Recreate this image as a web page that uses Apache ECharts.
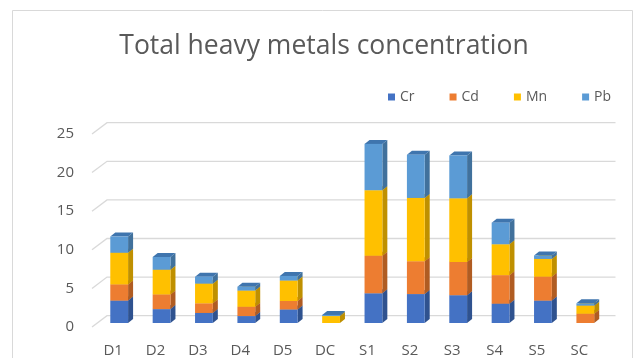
<!DOCTYPE html>
<html>
<head>
<meta charset="utf-8">
<script src="https://cdn.jsdelivr.net/npm/echarts@6/dist/echarts.min.js"></script>
<style>html,body{margin:0;padding:0;background:#fff}#c{width:637px;height:358px}</style>
</head>
<body>
<div id="c"></div>
<script>
var categories = ['D1','D2','D3','D4','D5','DC','S1','S2','S3','S4','S5','SC'];
var Cr = [2.9, 1.8, 1.3, 0.9, 1.75, 0, 3.85, 3.75, 3.6, 2.5, 2.9, 0];
var Cd = [2.1, 1.9, 1.25, 1.2, 1.1, 0, 4.85, 4.25, 4.3, 3.7, 3.1, 1.2];
var Mn = [4.1, 3.2, 2.55, 2.1, 2.65, 0.9, 8.5, 8.2, 8.25, 4.0, 2.3, 1.05];
var Pb = [2.1, 1.65, 0.9, 0.5, 0.6, 0.15, 6.0, 5.6, 5.55, 2.8, 0.45, 0.3];
var yTicks = [0, 5, 10, 15, 20, 25];

var seriesNames = ['Cr','Cd','Mn','Pb'];
var seriesVals = [Cr, Cd, Mn, Pb];
var front = ['#4472C4','#ED7D31','#FFC000','#5B9BD5'];
var side  = ['#2F528F','#B05C22','#BF9000','#41719C'];
var top_  = ['#3B63AA','#D06A27','#DDA600','#3F75AE'];

var FONT = "'Open Sans', sans-serif";
var OX = 6, OY = -4;     // bar plane offset from label plane
var DX = 5, DY = -4;     // bar depth
var WX = 15, WY = -11.3; // back wall offset

var bases = [];
var acc = categories.map(function(){return 0;});
seriesVals.forEach(function(arr){
  bases.push(acc.slice());
  acc = acc.map(function(a,i){return a + arr[i];});
});

function makeBarSeries(k){
  var data = categories.map(function(c,i){ return [i, bases[k][i], seriesVals[k][i]]; });
  return {
    name: seriesNames[k],
    type: 'custom',
    itemStyle: {color: front[k]},
    z: 10 + k,
    encode: {x: 0, y: 2},
    data: data,
    renderItem: function(params, api){
      var i = api.value(0), b = api.value(1), v = api.value(2);
      if (!v) return null;
      var p0 = api.coord([i, b]);
      var p1 = api.coord([i, b + v]);
      var w = api.size([1, 0])[0] * 0.42;
      var x = p0[0] - w/2 + OX;
      var y0 = p0[1] + OY, y1 = p1[1] + OY;
      return {
        type: 'group',
        children: [
          {type:'polygon', shape:{points:[[x+w,y1],[x+w+DX,y1+DY],[x+w+DX,y0+DY],[x+w,y0]]}, style:{fill: side[k]}},
          {type:'polygon', shape:{points:[[x,y1],[x+DX,y1+DY],[x+w+DX,y1+DY],[x+w,y1]]}, style:{fill: top_[k]}},
          {type:'rect', shape:{x:x, y:y1, width:w, height:y0-y1}, style:{fill: front[k]}}
        ]
      };
    }
  };
}

var gridSeries = {
  type: 'custom',
  silent: true,
  z: 1,
  data: yTicks.map(function(t){ return [0, t]; }),
  encode: {x: 0, y: 1},
  renderItem: function(params, api){
    var cs = params.coordSys;
    var y = api.coord([0, api.value(1)])[1];
    return {
      type: 'polyline',
      shape: {points: [[cs.x, y], [cs.x + WX, y + WY], [cs.x + cs.width + WX, y + WY]]},
      style: {stroke: '#d9d9d9', lineWidth: 1.3, fill: null}
    };
  }
};

var chart = echarts.init(document.getElementById('c'));
chart.setOption({
  animation: false,
  backgroundColor: '#fff',
  graphic: [{type:'rect', shape:{x:12.5, y:10.5, width:620, height:360}, style:{fill:null, stroke:'#d9d9d9', lineWidth:1}, silent:true}],
  title: {
    text: 'Total heavy metals concentration',
    left: 324, top: 33, textAlign: 'center', padding: 0,
    textStyle: {fontFamily: FONT, fontSize: 26.5, fontWeight: 'normal', color: '#595959'}
  },
  legend: {
    data: seriesNames,
    left: 388, top: 90, padding: 0,
    icon: 'rect', itemWidth: 7, itemHeight: 7, itemGap: 35,
    textStyle: {fontFamily: FONT, fontSize: 14, color: '#595959'}
  },
  grid: {left: 92, right: 36.5, top: 134, bottom: 28, containLabel: false},
  xAxis: {
    type: 'category', data: categories,
    axisLine: {show: false}, axisTick: {show: false},
    axisLabel: {fontFamily: FONT, fontSize: 15, color: '#595959', margin: 16}
  },
  yAxis: {
    type: 'value', min: 0, max: 25, interval: 5,
    axisLine: {show: false}, axisTick: {show: false}, splitLine: {show: false},
    axisLabel: {fontFamily: FONT, fontSize: 15, color: '#595959', margin: 18}
  },
  series: [gridSeries].concat([0,1,2,3].map(makeBarSeries))
});
</script>
</body>
</html>
